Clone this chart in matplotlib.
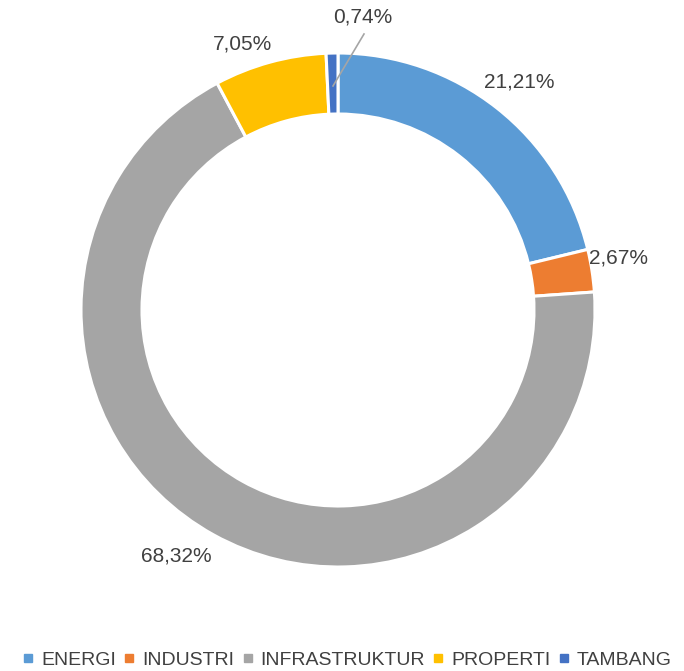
import matplotlib
matplotlib.use("Agg")
import matplotlib.pyplot as plt
from matplotlib.lines import Line2D

# data
sectors = ["ENERGI", "INDUSTRI", "INFRASTRUKTUR", "PROPERTI", "TAMBANG"]
shares = [21.21, 2.67, 68.32, 7.05, 0.74]
labels = ["21,21%", "2,67%", "68,32%", "7,05%", "0,74%"]
colors = ["#5B9BD5", "#ED7D31", "#A5A5A5", "#FFC000", "#4472C4"]

# label positions in pixel space (x from left, y from top)
label_pos = [(519, 82), (618, 258), (176, 556), (243, 44), (363, 17)]

W, H = 684, 671
plt.rcParams['font.family'] = ['Liberation Sans', 'DejaVu Sans']
text_col = "#404040"

fig = plt.figure(figsize=(W / 100, H / 100), dpi=100)
ax = fig.add_axes([0, 0, 1, 1])

cx, cy = 338, H - 310
R = 257
wedges, _ = ax.pie(shares, colors=colors, startangle=90, counterclock=False,
                   center=(cx, cy), radius=R, frame=True,
                   wedgeprops=dict(width=61, edgecolor="white", linewidth=2.2))
ax.set_xlim(0, W)
ax.set_ylim(0, H)
ax.set_aspect("equal")
ax.axis("off")

for lab, (x, y) in zip(labels, label_pos):
    ax.text(x, H - y, lab, ha="center", va="center", fontsize=15, color=text_col)

# leader line for the tiny TAMBANG slice
ax.plot([333, 364], [H - 86, H - 34], color="#A5A5A5", lw=1.2)

handles = [Line2D([], [], marker="s", ls="", color=c, markersize=6) for c in colors]
fig.legend(handles, sectors, loc="center", bbox_to_anchor=(0.508, 1 - 660 / H),
           ncol=5, frameon=False, fontsize=14, handlelength=0.5, handletextpad=0.4,
           columnspacing=0.45, labelcolor=text_col, borderpad=0, borderaxespad=0)

fig.savefig("out.png", dpi=100)
